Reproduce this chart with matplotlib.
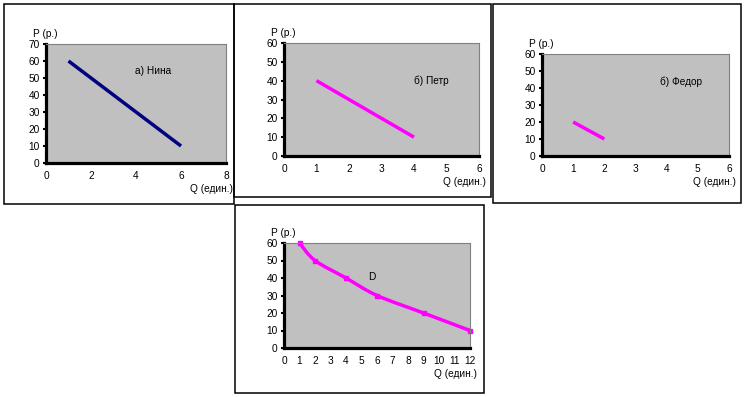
import numpy as np
import matplotlib
matplotlib.use("Agg")
import matplotlib.pyplot as plt
from matplotlib.path import Path
from matplotlib.patches import PathPatch, Rectangle

plt.rcParams['font.family'] = ['Liberation Sans', 'DejaVu Sans']

W, H = 745, 397

# ---- data ----
nina_q = [1, 6]
nina_p = [60, 10]
petr_q = [1, 4]
petr_p = [40, 10]
fedor_q = [1, 2]
fedor_p = [20, 10]
market_q = [1, 2, 4, 6, 9, 12]
market_p = [60, 50, 40, 30, 20, 10]

titles = ["а) Нина", "б) Петр", "б) Федор", "D"]
title_pos = [(3.95, 54), (4.0, 40), (3.8, 43.5), (5.4, 40.5)]
x_ticks = [[0, 2, 4, 6, 8], list(range(0, 7)), list(range(0, 7)), list(range(0, 13))]
y_ticks = [list(range(0, 71, 10)), list(range(0, 61, 10)), list(range(0, 61, 10)), list(range(0, 61, 10))]
y_label = "P (р.)"
x_label = "Q (един.)"

# ---- layout (pixels) ----
axes_px = [(46, 44, 226, 163), (284, 43, 479, 156), (542, 54, 729, 156), (284, 243, 470, 348)]
boxes_px = [(4, 4, 234, 204), (234, 4, 491, 197), (493, 4, 741, 203), (235, 205, 484, 393)]

fig = plt.figure(figsize=(W / 100, H / 100), dpi=100)
fig.patch.set_facecolor('white')


def frac(x, y):
    return x / W, 1 - y / H


for (x0, y0, x1, y1) in boxes_px:
    r = Rectangle(frac(x0, y1), (x1 - x0) / W, (y1 - y0) / H, transform=fig.transFigure,
                  fill=False, edgecolor='black', linewidth=1.1)
    fig.add_artist(r)

FS = 7.3
axes = []
for i, (x0, y0, x1, y1) in enumerate(axes_px):
    ax = fig.add_axes([x0 / W, 1 - y1 / H, (x1 - x0) / W, (y1 - y0) / H])
    ax.set_facecolor('#c0c0c0')
    ax.set_xlim(x_ticks[i][0], x_ticks[i][-1])
    ax.set_ylim(y_ticks[i][0], y_ticks[i][-1])
    ax.set_xticks(x_ticks[i])
    ax.set_yticks(y_ticks[i])
    ax.tick_params(axis='y', length=2.5, width=1.5, pad=2, labelsize=FS)
    ax.tick_params(axis='x', length=0, pad=6, labelsize=FS)
    for s in ['left', 'bottom']:
        ax.spines[s].set_linewidth(2.3)
        ax.spines[s].set_color('black')
    for s in ['top', 'right']:
        ax.spines[s].set_linewidth(0.8)
        ax.spines[s].set_color('#808080')
    ax.text(*title_pos[i], titles[i], fontsize=FS, ha='left', va='center')
    # axis labels
    fig.text(*frac(x0 - 13, y0 - 10), y_label, fontsize=FS, ha='left', va='center')
    fig.text(*frac(x1 + 7, y1 + 26), x_label, fontsize=FS, ha='right', va='center')
    axes.append(ax)

LW = 2.5
axes[0].plot(nina_q, nina_p, color='#000080', linewidth=LW, solid_capstyle='butt')
axes[1].plot(petr_q, petr_p, color='#ff00ff', linewidth=LW, solid_capstyle='butt')
axes[2].plot(fedor_q, fedor_p, color='#ff00ff', linewidth=LW, solid_capstyle='butt')

# smooth market demand curve (Bezier through the data points, computed in display space)
ax = axes[3]
pts = ax.transData.transform(np.column_stack([market_q, market_p]))
n = len(pts)
verts = [pts[0]]
codes = [Path.MOVETO]
for k in range(n - 1):
    p0 = pts[k - 1] if k > 0 else pts[k]
    p1 = pts[k]
    p2 = pts[k + 1]
    p3 = pts[k + 2] if k + 2 < n else pts[k + 1]
    c1 = p1 + (p2 - p0) / 6.0
    c2 = p2 - (p3 - p1) / 6.0
    verts += [c1, c2, p2]
    codes += [Path.CURVE4] * 3
verts = ax.transData.inverted().transform(np.array(verts))
ax.add_patch(PathPatch(Path(verts, codes), transform=ax.transData, fill=False,
                       edgecolor='#ff00ff', linewidth=LW, clip_on=False))
ax.plot(market_q, market_p, linestyle='none', marker='s', markersize=3.5,
        color='#ff00ff', clip_on=False)

fig.savefig('out.png', dpi=100)
